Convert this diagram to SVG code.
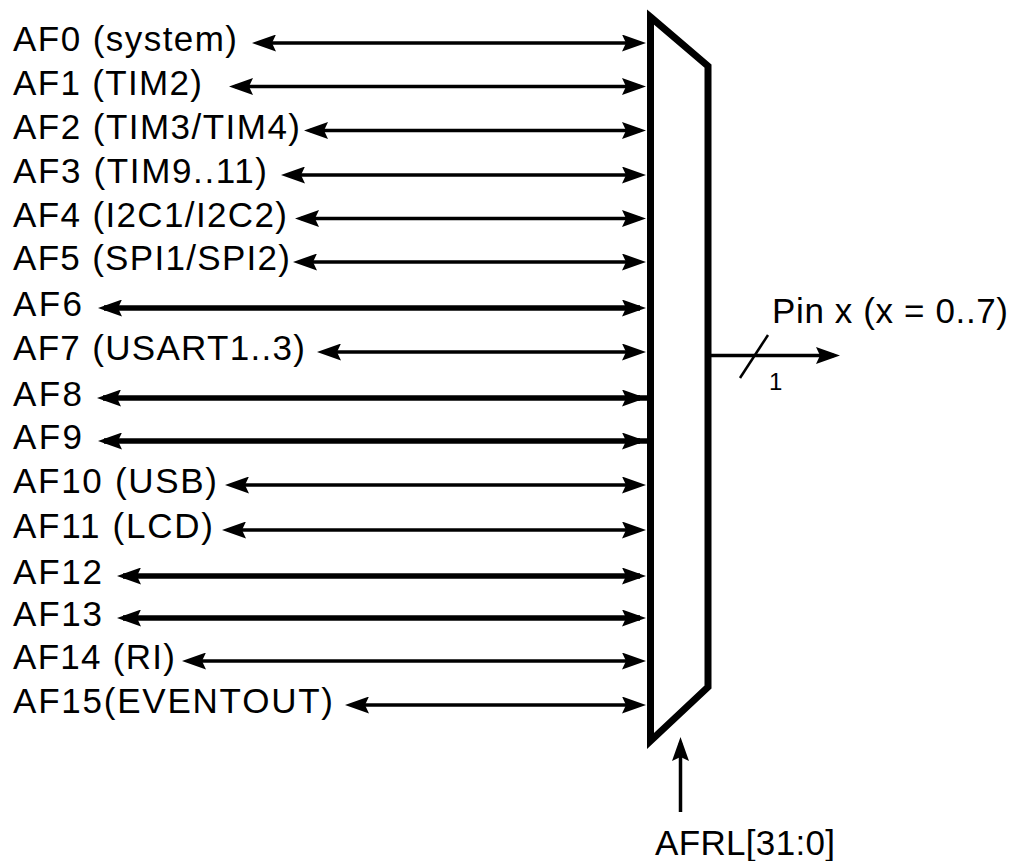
<svg xmlns="http://www.w3.org/2000/svg" width="1012" height="861" viewBox="0 0 1012 861">
<style>
text{font-family:"Liberation Sans",Arial,sans-serif;font-size:35px;fill:#000}
.lbl{lengthAdjust:spacing}
.thin{stroke:#000;stroke-width:3.5;fill:none}
.thick{stroke:#000;stroke-width:5.5;fill:none}
.bi{marker-start:url(#ah);marker-end:url(#ah)}
.mux{fill:#fff;stroke:#000;stroke-width:7;stroke-linejoin:miter;stroke-miterlimit:10}
</style>
<defs>
<marker id="ah" viewBox="0 0 24 17" refX="18" refY="8.5" markerWidth="24" markerHeight="17" markerUnits="userSpaceOnUse" orient="auto-start-reverse">
<path d="M0,0 L24,8.5 L0,17 L4,8.5 Z" fill="#000"/>
</marker>
</defs>
<rect width="1012" height="861" fill="#fff"/>
<g id="connectors">
<line class="thin bi" x1="258" y1="43" x2="640" y2="43"/>
<line class="thin bi" x1="235" y1="86.5" x2="640" y2="86.5"/>
<line class="thin bi" x1="310" y1="130.5" x2="640" y2="130.5"/>
<line class="thin bi" x1="287" y1="175" x2="640" y2="175"/>
<line class="thin bi" x1="301" y1="218.5" x2="640" y2="218.5"/>
<line class="thin bi" x1="299" y1="262" x2="640" y2="262"/>
<line class="thick bi" x1="104" y1="308" x2="640" y2="308"/>
<line class="thin bi" x1="323" y1="352" x2="640" y2="352"/>
<line class="thick bi" x1="103" y1="398" x2="640" y2="398"/>
<line class="thick" x1="636" y1="398" x2="654" y2="398"/>
<line class="thick bi" x1="104" y1="441" x2="640" y2="441"/>
<line class="thick" x1="636" y1="441" x2="654" y2="441"/>
<line class="thin bi" x1="231" y1="485" x2="640" y2="485"/>
<line class="thin bi" x1="228" y1="530" x2="640" y2="530"/>
<line class="thick bi" x1="123" y1="576" x2="640" y2="576"/>
<line class="thick bi" x1="123" y1="618" x2="640" y2="618"/>
<line class="thin bi" x1="188" y1="661" x2="640" y2="661"/>
<line class="thin bi" x1="351" y1="705" x2="640" y2="705"/>
<line class="thin" x1="711" y1="355.5" x2="834" y2="355.5" marker-end="url(#ah)"/>
<line x1="740" y1="378" x2="768" y2="335" stroke="#000" stroke-width="2.5"/>
<line class="thin" x1="680.5" y1="812" x2="680.5" y2="743" stroke-width="4.5" marker-end="url(#ah)"/>
</g>
<g id="mux">
<path class="mux" d="M650.5,17 L708,66 L708,687 L650.5,741 Z"/>
</g>
<g id="labels">
<text x="13" y="51" textLength="224" class="lbl">AF0 (system)</text>
<text x="13" y="94.5" textLength="189" class="lbl">AF1 (TIM2)</text>
<text x="13" y="138.5" textLength="287" class="lbl">AF2 (TIM3/TIM4)</text>
<text x="13" y="183" textLength="254" class="lbl">AF3 (TIM9..11)</text>
<text x="13" y="226.5" textLength="274" class="lbl">AF4 (I2C1/I2C2)</text>
<text x="13" y="270" textLength="277" class="lbl">AF5 (SPI1/SPI2)</text>
<text x="13" y="316" textLength="69" class="lbl">AF6</text>
<text x="13" y="360" textLength="292" class="lbl">AF7 (USART1..3)</text>
<text x="13" y="406" textLength="69" class="lbl">AF8</text>
<text x="13" y="449" textLength="69" class="lbl">AF9</text>
<text x="13" y="493" textLength="204" class="lbl">AF10 (USB)</text>
<text x="13" y="538" textLength="200" class="lbl">AF11 (LCD)</text>
<text x="13" y="584" textLength="89" class="lbl">AF12</text>
<text x="13" y="626" textLength="89" class="lbl">AF13</text>
<text x="13" y="669" textLength="162" class="lbl">AF14 (RI)</text>
<text x="13" y="713" textLength="320" class="lbl">AF15(EVENTOUT)</text>
<text x="772" y="323" textLength="236" class="lbl">Pin x (x = 0..7)</text>
<text x="769" y="390" style="font-size:24px">1</text>
<text x="655" y="855" textLength="180" class="lbl">AFRL[31:0]</text>
</g>
</svg>
